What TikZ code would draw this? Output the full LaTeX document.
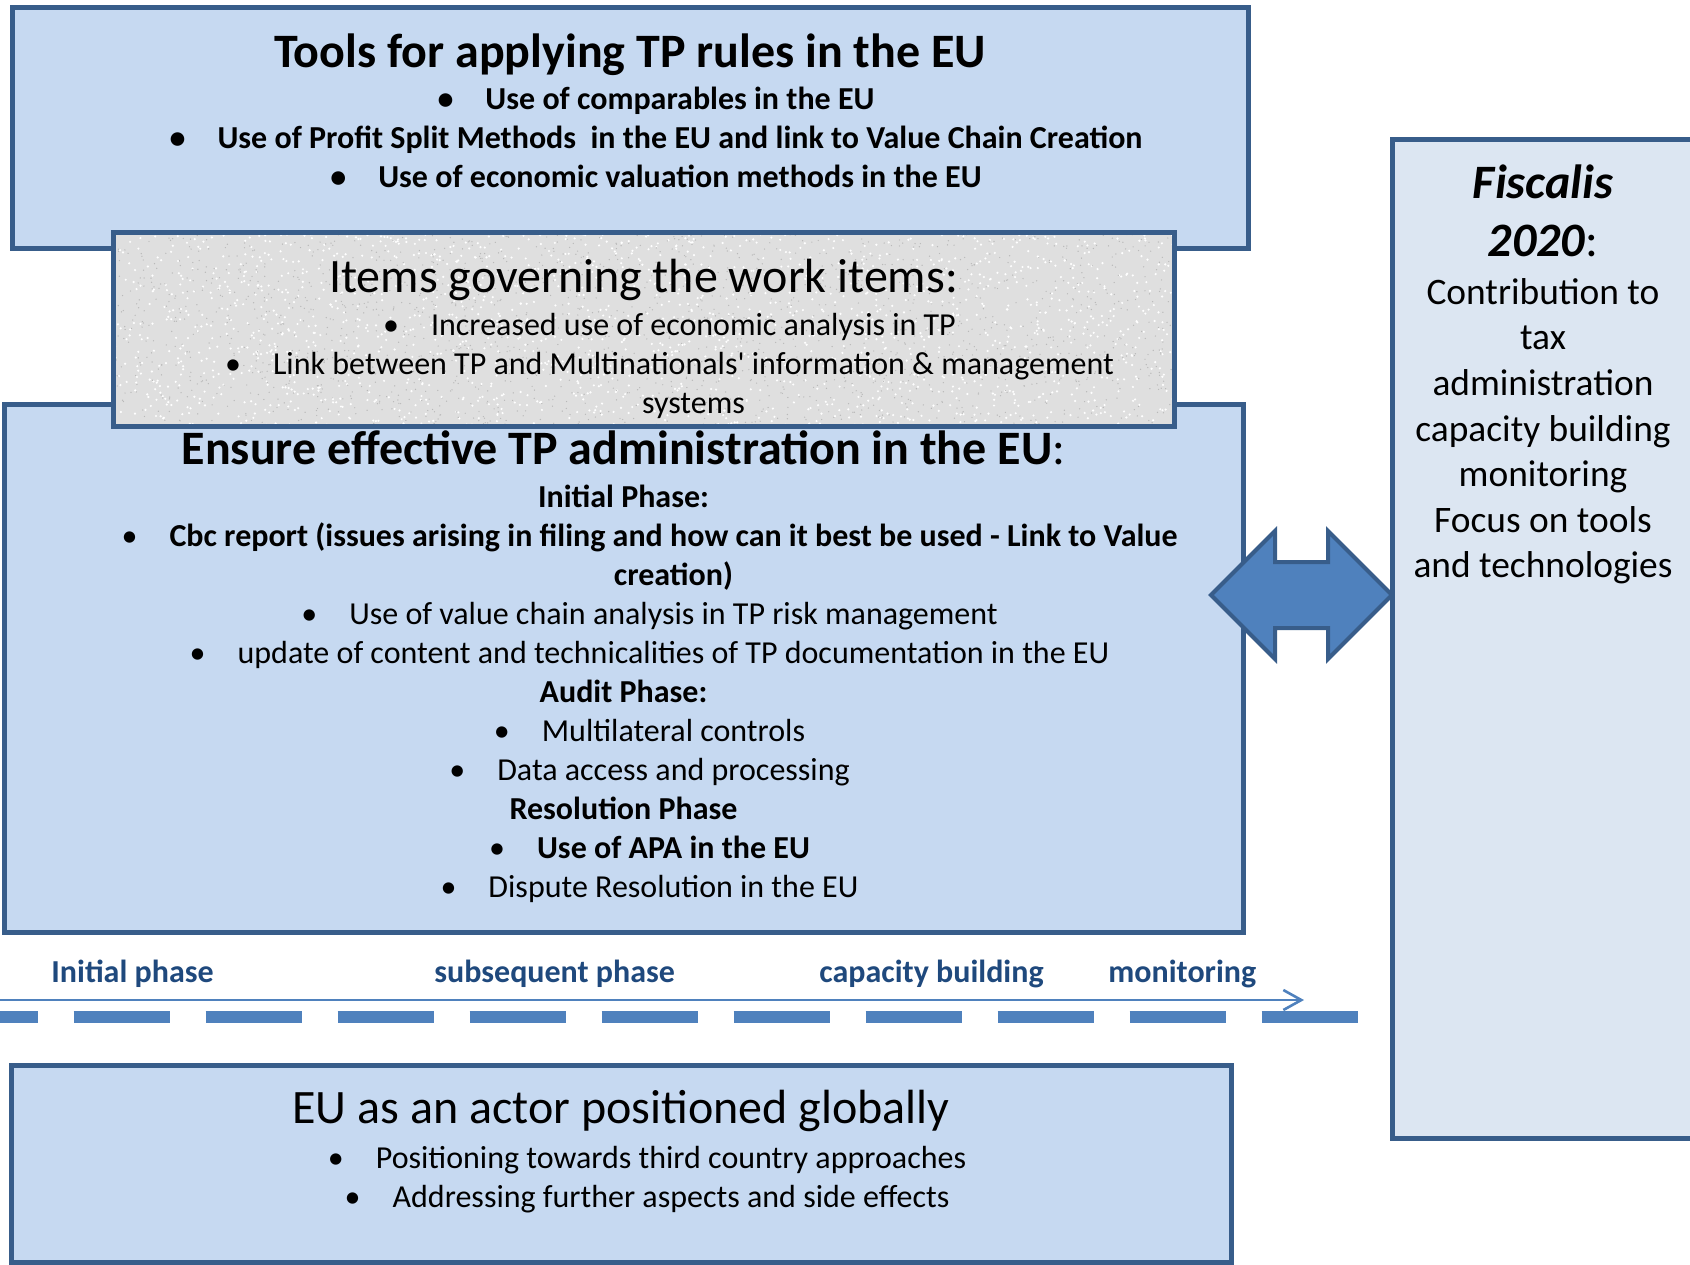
\documentclass[tikz,border=0pt]{standalone}
\usepackage{fontspec}
\setmainfont{Carlito}
\usetikzlibrary{positioning,shapes.arrows,arrows.meta}

\definecolor{boxblue}{HTML}{C6D9F1}
\definecolor{sideblue}{HTML}{DCE6F2}
\definecolor{edgeblue}{HTML}{385D8A}
\definecolor{midblue}{HTML}{4F81BD}
\definecolor{darkblue}{HTML}{1F497D}
\definecolor{stone}{HTML}{DFDFDF}

\newcommand{\bul}[1]{\hspace*{26pt}\makebox[24pt][l]{\textbullet}#1}
\newcommand{\cont}[1]{\hspace*{50pt}#1}

\tikzset{
  panel/.style={draw=edgeblue, line width=2.5pt, fill=boxblue, inner sep=0pt, outer sep=0pt, anchor=north west},
  headline/.style={anchor=north, inner sep=0pt, font=\fontsize{24}{28}\selectfont},
  itemlist/.style={anchor=north, inner sep=0pt, align=center, font=\fontsize{16}{19.5}\selectfont},
  phase/.style={anchor=base west, inner sep=0pt, text=darkblue, font=\fontsize{16}{19}\selectfont\bfseries},
  twoway/.style={double arrow, draw=edgeblue, line width=2pt, fill=midblue, inner xsep=0pt, inner ysep=15.5pt,
    minimum height=90.5pt, double arrow head extend=15.5pt},
  flow/.style={midblue, line width=1.3pt, -{Straight Barb[length=9pt,width=10pt]}},
  rail/.style={midblue, line width=6pt, dash pattern=on 48pt off 18pt, dash phase=29.25pt},
}

\begin{document}
\begin{tikzpicture}[x=0.5pt,y=-0.5pt]
\useasboundingbox (0,0) rectangle (1690,1264);

% the panels
\node[panel, minimum width=618pt, minimum height=120.25pt] (tools) at (12,7.5) {};
\node[panel, fill=sideblue, minimum width=151pt, minimum height=499.5pt] (fiscalis) at (1392,139) {};
\node[panel, minimum width=619.5pt, minimum height=264pt] (ensure) at (4,404) {};
\node[panel, minimum width=610pt, minimum height=98.5pt] (global) at (11,1065) {};
\node[panel, fill=stone, minimum width=530.5pt, minimum height=97pt] (items) at (113,232) {};
\begin{scope}
  \clip (items.north west) rectangle (items.south east);
  \pgfmathsetseed{7}
  \foreach \k in {1,...,1800} {
    \fill[white] ({113+1061*rnd},{232+194*rnd}) circle (0.6pt);
    \fill[gray!55] ({113+1061*rnd},{232+194*rnd}) circle (0.35pt);
  }
\end{scope}
\draw[edgeblue, line width=2.5pt] (items.north west) rectangle (items.south east);

\node[twoway] (link) at (1301.5,595) {};

% texts
\node[headline, font=\fontsize{24}{28}\selectfont\bfseries, below=12.75pt of tools.north] (toolstitle) {Tools for applying TP rules in the EU};
\node[itemlist, font=\fontsize{16}{19.5}\selectfont\bfseries, below=39.75pt of tools.north] (toolslist) {%
  \bul{Use of comparables in the EU}\\
  \bul{Use of Profit Split Methods\ \ in the EU and link to Value Chain Creation}\\
  \bul{Use of economic valuation methods in the EU}};

\node[headline, below=13.5pt of items.north] (itemstitle) {Items governing the work items:};
\node[itemlist, below=40.3pt of items.north] (itemslist) {%
  \bul{Increased use of economic analysis in TP}\\
  \bul{Link between TP and Multinationals\textquotesingle{} information \& management}\\
  \cont{systems}};

\node[headline, below=13pt of ensure.north] (ensuretitle) {\textbf{Ensure effective TP administration in the EU}:};
\node[itemlist, below=40.5pt of ensure.north] (ensurelist) {%
  \textbf{Initial Phase:}\\
  \bul{\textbf{Cbc report (issues arising in filing and how can it best be used - Link to Value}}\\
  \cont{\textbf{creation)}}\\
  \bul{Use of value chain analysis in TP risk management}\\
  \bul{update of content and technicalities of TP documentation in the EU}\\
  \textbf{Audit Phase:}\\
  \bul{Multilateral controls}\\
  \bul{Data access and processing}\\
  \textbf{Resolution Phase}\\
  \bul{\textbf{Use of APA in the EU}}\\
  \bul{Dispute Resolution in the EU}};

\node[headline, below=12.5pt of global.north] (globaltitle) {EU as an actor positioned globally};
\node[itemlist, below=40.5pt of global.north] (globallist) {%
  \bul{Positioning towards third country approaches}\\
  \bul{Addressing further aspects and side effects}};

\node[itemlist, font=\fontsize{24}{29}\selectfont, below=12.5pt of fiscalis.north] (fiscalistitle) {%
  \textbf{\textit{Fiscalis}}\\
  \textbf{\textit{2020}}:};
\node[itemlist, font=\fontsize{18.7}{22.8}\selectfont, below=69.5pt of fiscalis.north] (fiscalislist) {%
  Contribution to\\tax\\administration\\capacity building\\monitoring\\Focus on tools\\and technologies};

% timeline
\node[phase] (initial) at (51,982) {Initial phase};
\node[phase] (subsequent) at (434,982) {subsequent phase};
\node[phase] (capacity) at (819,982) {capacity building};
\node[phase] (monitor) at (1108,982) {monitoring};
\coordinate (flowstart) at (0,1000);
\coordinate (flowend) at (1304,1000);
\draw[flow] (flowstart) -- (flowend);
\coordinate (railstart) at (0,1017);
\coordinate (railend) at (1359,1017);
\draw[rail] (railstart) -- (railend);
\end{tikzpicture}
\end{document}
